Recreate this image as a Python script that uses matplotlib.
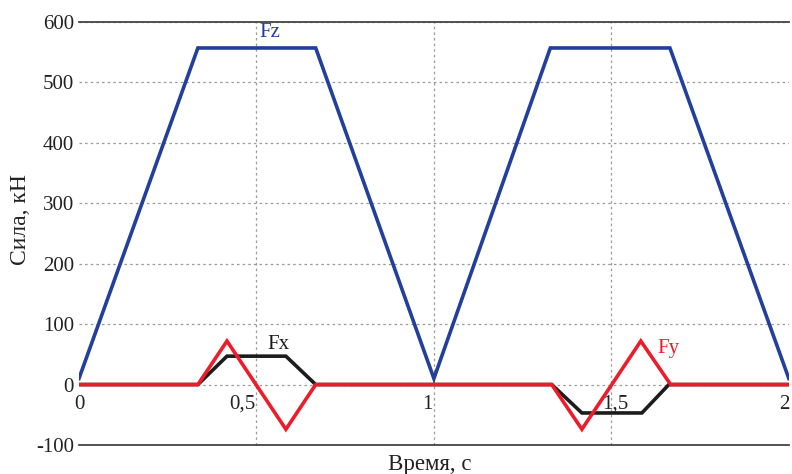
import matplotlib.pyplot as plt
import numpy as np

plt.rcParams['font.family'] = ['Liberation Serif', 'DejaVu Serif']
plt.rcParams['axes.unicode_minus'] = False

# breakpoints (s) and force values (kN)
t_fz = [0, 0.335, 0.667, 1.0, 1.328, 1.665, 2.0]
fz = [10, 557, 557, 10, 557, 557, 10]

t_fx = [0, 0.335, 0.417, 0.583, 0.667, 1.332, 1.417, 1.586, 1.662, 2.0]
fx = [0, 0, 47, 47, 0, 0, -47, -47, 0, 0]

t_fy = [0, 0.335, 0.417, 0.583, 0.667, 1.332, 1.417, 1.583, 1.667, 2.0]
fy = [0, 0, 72, -74, 0, 0, -74, 72, 0, 0]

x_ticks = [0, 0.5, 1, 1.5, 2]
x_labels = ['0', '0,5', '1', '1,5', '2']
y_ticks = [-100, 0, 100, 200, 300, 400, 500, 600]

BLUE = '#233f9b'
RED = '#ec1c2a'
BLACK = '#1c1c1c'
TXT = '#222222'

fig = plt.figure(figsize=(7.92, 4.74), dpi=100)
ax = fig.add_axes([0.0997, 0.0612, 0.8963, 0.8924])

ax.plot(t_fz, fz, color=BLUE, lw=2.6, solid_joinstyle='miter', zorder=3)
ax.plot(t_fx, fx, color=BLACK, lw=2.6, solid_joinstyle='miter', zorder=3)
ax.plot(t_fy, fy, color=RED, lw=2.6, solid_joinstyle='miter', zorder=4)

ax.set_xlim(0, 2)
ax.set_ylim(-100, 600)
ax.set_yticks(y_ticks)
ax.set_xticks([0.5, 1, 1.5])
ax.set_xticklabels([])
ax.tick_params(axis='both', length=0)
ax.tick_params(axis='y', pad=3.5, labelsize=15, colors=TXT)
ax.grid(True, color='#999999', linestyle=(0, (2, 2.5)), linewidth=0.9)

for s in ['left', 'right']:
    ax.spines[s].set_visible(False)
for s in ['top', 'bottom']:
    ax.spines[s].set_color('#444444')
    ax.spines[s].set_linewidth(1.3)

# x tick labels sit just under the zero line
offsets = [0, -10, -5, 3, -3]
for xv, lab, off in zip(x_ticks, x_labels, offsets):
    ax.annotate(lab, (xv, 0), xytext=(off, -7.5), textcoords='offset points',
                ha='center', va='top', fontsize=15, color=TXT)

ax.text(0.507, 582, 'Fz', color=BLUE, fontsize=15, ha='left', va='center')
ax.text(0.53, 66, 'Fx', color=BLACK, fontsize=15, ha='left', va='center')
ax.text(1.631, 60, 'Fy', color=RED, fontsize=15, ha='left', va='center')

ax.set_ylabel('Сила, кН', fontsize=17, color=TXT)
ax.yaxis.set_label_coords(-0.068, 0.533)
ax.set_xlabel('Время, с', fontsize=16.5, color=TXT)
ax.xaxis.set_label_coords(0.494, -0.022)

fig.savefig('out.png', dpi=100)
